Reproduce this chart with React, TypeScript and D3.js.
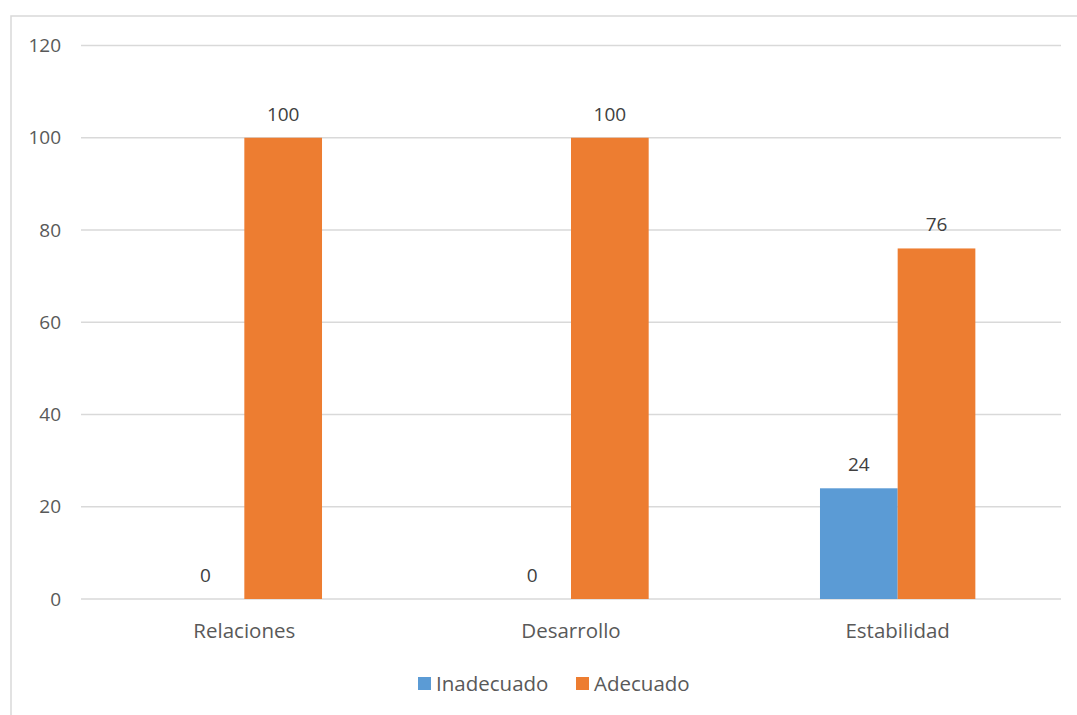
import React, { useEffect, useRef } from "react";
import * as d3 from "d3";

const categories = ["Relaciones", "Desarrollo", "Estabilidad"];
const seriesNames = ["Inadecuado", "Adecuado"];
const inadecuado = [0, 0, 24];
const adecuado = [100, 100, 76];
const yTicks = [0, 20, 40, 60, 80, 100, 120];
const colors = ["#5B9BD5", "#ED7D31"];

const W = 1077;
const H = 715;
const FONT = "'Open Sans', sans-serif";
const FS_NUM = 19;
const FS_TXT = 20.5;
const TEXT = "#595959";

export default function App() {
  const ref = useRef<SVGSVGElement>(null);
  useEffect(() => {
    const svg = d3.select(ref.current);
    svg.selectAll("*").remove();

    const left = 81, right = 1061, top = 45.5, bottom = 599;
    const x = d3.scaleBand<string>().domain(categories).range([left, right]).padding(0);
    const y = d3.scaleLinear().domain([0, 120]).range([bottom, top]);
    const series = [inadecuado, adecuado];
    const barW = x.bandwidth() * 0.2378;
    const sub = d3.scaleBand<number>().domain([0, 1]).range([-barW, barW]).padding(0);

    // outer border
    svg.append("rect").attr("x", 11).attr("y", 16).attr("width", W).attr("height", H)
      .attr("fill", "white").attr("stroke", "#d9d9d9").attr("stroke-width", 1.5);

    // gridlines
    svg.append("g").selectAll("line").data(yTicks).join("line")
      .attr("x1", left).attr("x2", right)
      .attr("y1", (d) => y(d)).attr("y2", (d) => y(d))
      .attr("stroke", "#d9d9d9").attr("stroke-width", 1.3);

    // y labels
    svg.append("g").selectAll("text").data(yTicks).join("text")
      .attr("x", 61).attr("y", (d) => y(d)).attr("dy", "0.35em")
      .attr("text-anchor", "end").attr("font-family", FONT).attr("font-size", FS_NUM)
      .attr("fill", TEXT).text((d) => d);

    // bars
    series.forEach((vals, si) => {
      const g = svg.append("g");
      g.selectAll("rect").data(vals).join("rect")
        .attr("x", (_, i) => x(categories[i])! + x.bandwidth() / 2 + sub(si)!)
        .attr("width", sub.bandwidth())
        .attr("y", (d) => y(d))
        .attr("height", (d) => y(0) - y(d))
        .attr("fill", colors[si]);
      g.selectAll("text").data(vals).join("text")
        .attr("x", (_, i) => x(categories[i])! + x.bandwidth() / 2 + sub(si)! + sub.bandwidth() / 2)
        .attr("y", (d) => y(d) - 17)
        .attr("text-anchor", "middle").attr("font-family", FONT).attr("font-size", FS_NUM)
        .attr("fill", "#404040").text((d) => d);
    });

    // category labels
    svg.append("g").selectAll("text").data(categories).join("text")
      .attr("x", (d) => x(d)! + x.bandwidth() / 2).attr("y", 631).attr("dy", "0.35em")
      .attr("text-anchor", "middle").attr("font-family", FONT).attr("font-size", FS_TXT)
      .attr("fill", TEXT).text((d) => d);

    // legend
    const legendX = [418, 576];
    seriesNames.forEach((name, i) => {
      svg.append("rect").attr("x", legendX[i]).attr("y", 677).attr("width", 13).attr("height", 13)
        .attr("fill", colors[i]);
      svg.append("text").attr("x", legendX[i] + 18).attr("y", 684).attr("dy", "0.35em")
        .attr("font-family", FONT).attr("font-size", FS_TXT).attr("fill", TEXT).text(name);
    });
  }, []);
  return (
    <svg ref={ref} width={W} height={H}
      style={{ position: "absolute", left: 0, top: 0, background: "white" }} />
  );
}
